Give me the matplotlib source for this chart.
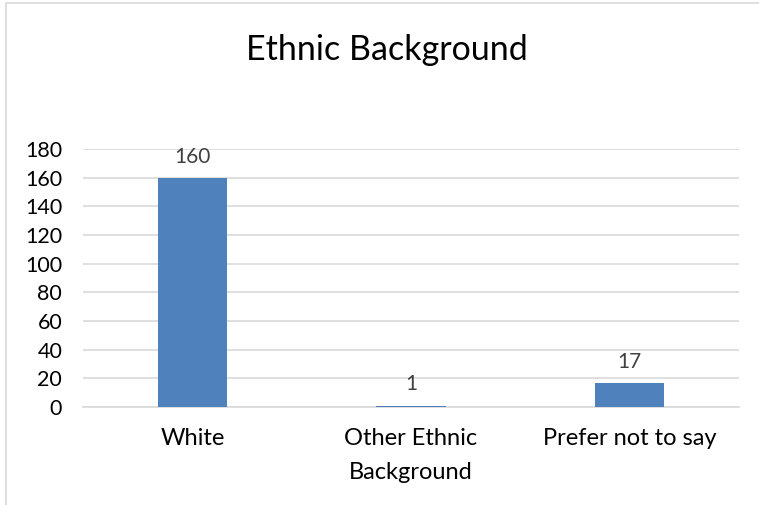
import matplotlib
matplotlib.use("Agg")
import matplotlib.pyplot as plt
from matplotlib.patches import Rectangle

categories = ["White", "Other Ethnic\nBackground", "Prefer not to say"]
values = [160, 1, 17]
yticks = [0, 20, 40, 60, 80, 100, 120, 140, 160, 180]
title = "Ethnic Background"

plt.rcParams['font.family'] = ['Lato', 'DejaVu Sans']

W, H = 759, 505
fig = plt.figure(figsize=(W/100, H/100), dpi=100)
fig.patch.set_facecolor('white')

# chart border (left and top visible)
fig.add_artist(Rectangle((6/W, -0.05), 1.1, (H-3)/H + 0.05, transform=fig.transFigure,
                         fill=False, edgecolor='#d9d9d9', linewidth=1.2))

ax = fig.add_axes([83/W, (H-407)/H, 656/W, 258/H])
x = list(range(len(categories)))
bars = ax.bar(x, values, width=0.316, color='#4f81bd', zorder=3)
ax.set_xlim(-0.5, len(categories) - 0.5)
ax.set_ylim(0, 180)
ax.set_yticks(yticks)
ax.set_yticklabels([str(t) for t in yticks], fontsize=15.5, color='#000000')
ax.set_xticks(x)
ax.set_xticklabels(categories, fontsize=17, color='#000000', linespacing=1.75)
ax.tick_params(axis='both', length=0)
ax.tick_params(axis='x', pad=15)
ax.tick_params(axis='y', pad=15)
ax.grid(axis='y', color='#d9d9d9', linewidth=1.2, zorder=0)
for s in ['top', 'right', 'left']:
    ax.spines[s].set_visible(False)
ax.spines['bottom'].set_color('#d9d9d9')
ax.spines['bottom'].set_linewidth(1.2)

for xi, v in zip(x, values):
    ax.annotate(str(v), (xi, v), xytext=(0, 8), textcoords='offset points',
                ha='center', va='bottom', fontsize=15, color='#404040')

fig.text(387/W, 1 - 50/H, title, ha='center', va='center', fontsize=24.5, color='#000000')

fig.savefig('out.png', dpi=100)
